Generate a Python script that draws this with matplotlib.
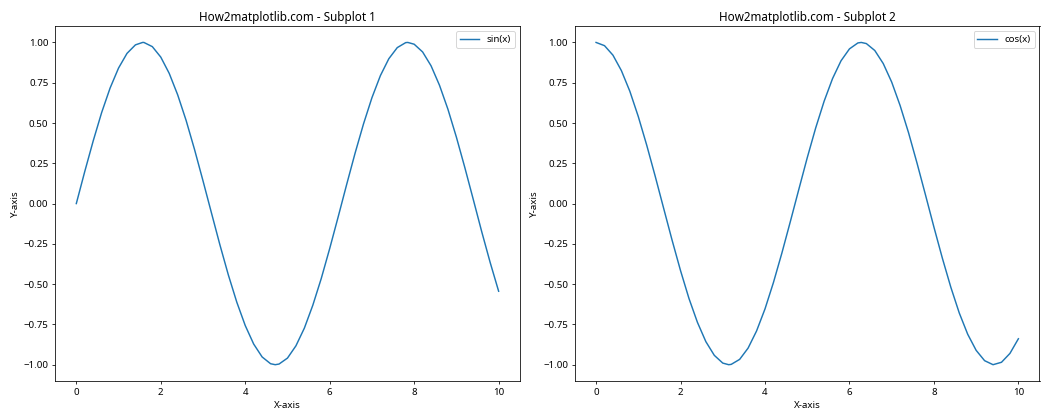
import matplotlib
matplotlib.use('agg')
import matplotlib.pyplot as plt

# values
sin_x = [0.0, 0.2, 0.4, 0.6, 0.8, 1.0, 1.2, 1.4, 1.57, 1.6, 1.8, 2.0, 2.2, 2.4, 2.6, 2.8, 3.0,
         3.2, 3.4, 3.6, 3.8, 4.0, 4.2, 4.4, 4.6, 4.71, 4.8, 5.0, 5.2, 5.4, 5.6, 5.8, 6.0,
         6.2, 6.4, 6.6, 6.8, 7.0, 7.2, 7.4, 7.6, 7.8, 7.85, 8.0, 8.2, 8.4, 8.6, 8.8, 9.0,
         9.2, 9.4, 9.6, 9.8, 10.0]
sin_y = [0.000, 0.199, 0.389, 0.565, 0.717, 0.841, 0.932, 0.985, 1.000, 1.000, 0.974, 0.909, 0.808,
         0.675, 0.516, 0.335, 0.141, -0.058, -0.256, -0.443, -0.612, -0.757, -0.872, -0.952, -0.994,
         -1.000, -0.996, -0.959, -0.883, -0.773, -0.631, -0.465, -0.279, -0.083, 0.117, 0.312, 0.494,
         0.657, 0.794, 0.899, 0.968, 0.999, 1.000, 0.989, 0.941, 0.855, 0.734, 0.585, 0.412, 0.223,
         0.025, -0.175, -0.366, -0.544]

cos_x = [0.0, 0.2, 0.4, 0.6, 0.8, 1.0, 1.2, 1.4, 1.6, 1.8, 2.0, 2.2, 2.4, 2.6, 2.8, 3.0, 3.14,
         3.2, 3.4, 3.6, 3.8, 4.0, 4.2, 4.4, 4.6, 4.8, 5.0, 5.2, 5.4, 5.6, 5.8, 6.0, 6.2, 6.28,
         6.4, 6.6, 6.8, 7.0, 7.2, 7.4, 7.6, 7.8, 8.0, 8.2, 8.4, 8.6, 8.8, 9.0, 9.2, 9.4,
         9.6, 9.8, 10.0]
cos_y = [1.000, 0.980, 0.921, 0.825, 0.697, 0.540, 0.362, 0.170, -0.029, -0.227, -0.416, -0.589,
         -0.737, -0.857, -0.942, -0.990, -1.000, -0.998, -0.967, -0.897, -0.791, -0.654, -0.490,
         -0.307, -0.112, 0.087, 0.284, 0.469, 0.635, 0.776, 0.886, 0.960, 0.997, 1.000, 0.993,
         0.950, 0.869, 0.754, 0.608, 0.439, 0.251, 0.054, -0.146, -0.339, -0.519, -0.679, -0.811,
         -0.911, -0.975, -1.000, -0.985, -0.930, -0.839]

plt.rcParams['font.family'] = ['Noto Sans', 'DejaVu Sans']

fig, (ax1, ax2) = plt.subplots(1, 2, figsize=(15, 6), dpi=70)

ax1.plot(sin_x, sin_y, label='sin(x)')
ax1.set_title('How2matplotlib.com - Subplot 1')
ax1.set_xlabel('X-axis')
ax1.set_ylabel('Y-axis')
ax1.legend(loc='upper right')

ax2.plot(cos_x, cos_y, label='cos(x)')
ax2.set_title('How2matplotlib.com - Subplot 2')
ax2.set_xlabel('X-axis')
ax2.set_ylabel('Y-axis')
ax2.legend(loc='upper right')

plt.tight_layout()
plt.savefig('out.png')
